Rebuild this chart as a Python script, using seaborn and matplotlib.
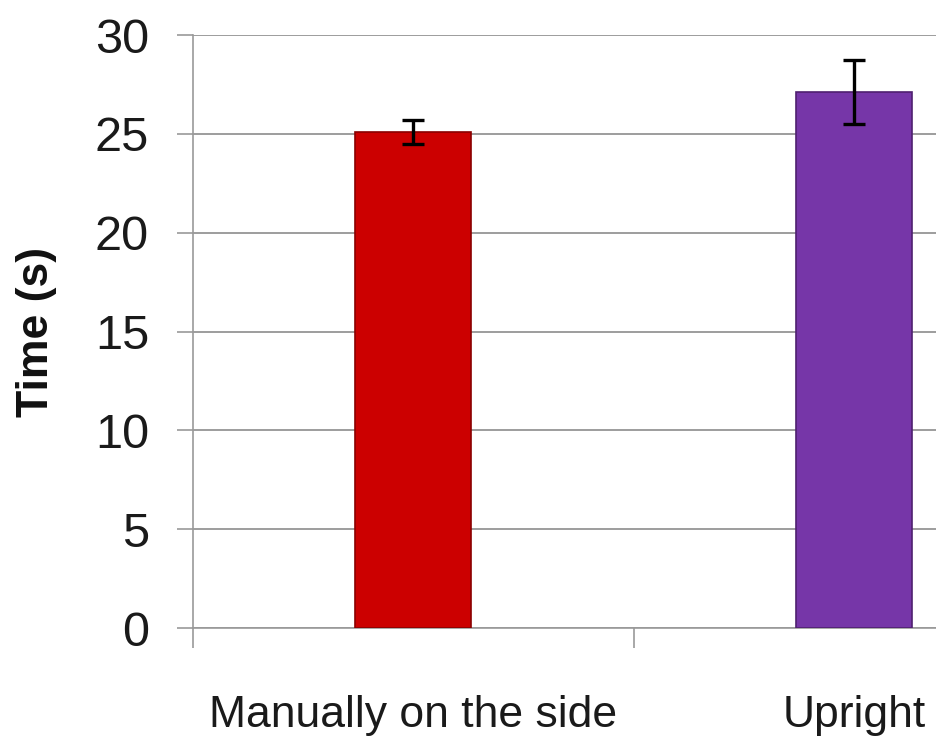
import numpy as np
import pandas as pd
import seaborn as sns
import matplotlib.pyplot as plt

categories = ['Manually on the side', 'Upright']
times = [25.1, 27.1]
errors = [0.6, 1.62]
colors = ['#CC0000', '#7636A8']
edge_colors = ['#8a0000', '#4f2070']

sns.set_style('white')
plt.rcParams['font.family'] = ['Liberation Sans', 'DejaVu Sans']

df = pd.DataFrame({'method': categories, 'time': times})

fig = plt.figure(figsize=(9.36, 7.36), dpi=100)
ax = fig.add_axes([0.206, 0.1467, 0.794, 0.8057])

sns.barplot(data=df, x='method', y='time', hue='method', palette=colors,
            saturation=1, width=0.263, legend=False, ax=ax, zorder=3)
for bar, ec in zip(ax.patches, edge_colors):
    bar.set_edgecolor(ec)
    bar.set_linewidth(1.2)
ax.errorbar(range(len(categories)), times, yerr=errors, fmt='none',
            ecolor='black', elinewidth=2.4, capsize=8, capthick=2.4, zorder=4)

ax.set_ylim(0, 30)
ax.set_yticks(np.arange(0, 31, 5))
ax.set_xticks([-0.5, 0.5, 1.5], minor=False)
ax.set_xticklabels([])
ax.set_xticks([0, 1], minor=True)
ax.set_xticklabels(categories, minor=True, fontsize=32, color='#1a1a1a')
ax.set_xlim(-0.5, 1.185)
ax.tick_params(axis='x', which='major', bottom=True, length=14.5, width=1.2,
               color='#999999', direction='out')
ax.tick_params(axis='x', which='minor', bottom=True, length=0, pad=48)
ax.tick_params(axis='y', left=True, length=11.5, width=1.2, color='#999999',
               direction='out', labelsize=35, labelcolor='#1a1a1a', pad=20)
ax.set_xlabel('')
ax.set_ylabel('Time (s)', fontsize=32, fontweight='bold', color='#111111',
              labelpad=27)

ax.yaxis.grid(True, color='#8c8c8c', linewidth=1.2, zorder=0)
ax.set_axisbelow(True)
sns.despine(ax=ax)
ax.spines['left'].set_color('#999999')
ax.spines['bottom'].set_color('#999999')
ax.spines['left'].set_linewidth(1.2)
ax.spines['bottom'].set_linewidth(1.2)

fig.savefig('out.png', dpi=100)
